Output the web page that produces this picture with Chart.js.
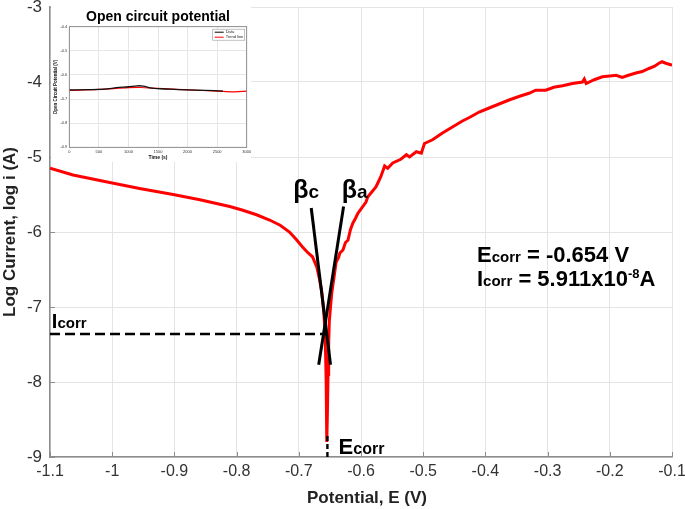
<!DOCTYPE html>
<html>
<head>
<meta charset="utf-8">
<script src="https://cdn.jsdelivr.net/npm/chart.js@4.4.0/dist/chart.umd.min.js"></script>
<style>
  body { margin: 0; background: #fff; }
  #wrap { position: relative; width: 685px; height: 509px; }
  #tafelChart { position: absolute; left: 0; top: 0; }
  #ocpChart { position: absolute; left: 51px; top: 7px; background: #fff; }
</style>
</head>
<body>
<div id="wrap">
  <canvas id="tafelChart" width="685" height="509"></canvas>
  <canvas id="ocpChart" width="200" height="155"></canvas>
</div>
<script>
// polarisation curve (cathodic branch down to Ecorr, then anodic branch)
const potentialE = [
  -1.100, -1.063, -1.004, -0.956, -0.902, -0.859, -0.811, -0.790, -0.768, -0.747,
  -0.730, -0.715, -0.704, -0.694, -0.685, -0.678, -0.671, -0.667, -0.663, -0.660,
  -0.658, -0.657, -0.656, -0.655, -0.655,
  -0.654, -0.653, -0.652, -0.651, -0.649, -0.647, -0.643, -0.640, -0.636, -0.634,
  -0.629, -0.625, -0.621, -0.617, -0.613, -0.609, -0.605, -0.597, -0.592, -0.589,
  -0.584, -0.576, -0.572, -0.568, -0.562, -0.557, -0.549, -0.536, -0.527, -0.522,
  -0.511, -0.503, -0.498, -0.485, -0.469, -0.453, -0.437, -0.425, -0.410, -0.395,
  -0.383, -0.362, -0.345, -0.330, -0.319, -0.303, -0.290, -0.276, -0.260, -0.244,
  -0.241, -0.238, -0.225, -0.212, -0.200, -0.190, -0.180, -0.170, -0.158, -0.148,
  -0.137, -0.128, -0.121, -0.116, -0.110, -0.102, -0.100
];
const logCurrent = [
  -5.15, -5.24, -5.34, -5.42, -5.50, -5.57, -5.66, -5.71, -5.77, -5.84,
  -5.91, -6.00, -6.10, -6.20, -6.28, -6.33, -6.47, -6.62, -6.80, -7.05,
  -7.30, -7.60, -8.00, -8.40, -8.80,
  -8.40, -7.90, -7.50, -7.20, -7.00, -6.81, -6.58, -6.40, -6.34, -6.28,
  -6.24, -6.14, -6.11, -5.97, -5.88, -5.82, -5.75, -5.66, -5.60, -5.53,
  -5.48, -5.40, -5.33, -5.26, -5.12, -5.15, -5.08, -5.03, -4.97, -5.00,
  -4.93, -4.95, -4.82, -4.77, -4.68, -4.60, -4.52, -4.47, -4.40, -4.35,
  -4.31, -4.24, -4.19, -4.15, -4.11, -4.11, -4.07, -4.05, -4.02, -4.00,
  -3.96, -4.02, -3.97, -3.93, -3.92, -3.91, -3.94, -3.91, -3.88, -3.86,
  -3.82, -3.79, -3.75, -3.73, -3.75, -3.77, -3.78
];

// Tafel fit lines
const betaCE = [-0.680, -0.649];
const betaCLog = [-5.68, -7.77];
const betaAE = [-0.628, -0.668];
const betaALog = [-5.66, -7.77];

const eCorr = -0.654;
const iCorrLog = -7.36;

const xTicks = [-1.1, -1.0, -0.9, -0.8, -0.7, -0.6, -0.5, -0.4, -0.3, -0.2, -0.1];
const yTicks = [-9, -8, -7, -6, -5, -4, -3];

// inset: open circuit potential
const ocpTime = [0, 300, 600, 800, 1000, 1150, 1250, 1400, 1700, 2000, 2300, 2600];
const ocpData = [-0.662, -0.661, -0.659, -0.653, -0.649, -0.645, -0.646, -0.655, -0.659, -0.662, -0.664, -0.667];
const trendTime = [0, 500, 1000, 1200, 1500, 2000, 2500, 2800, 3000];
const trendData = [-0.664, -0.660, -0.653, -0.652, -0.656, -0.662, -0.667, -0.670, -0.667];
const ocpXTicks = [0, 500, 1000, 1500, 2000, 2500, 3000];
const ocpYTicks = [-0.9, -0.8, -0.7, -0.6, -0.5, -0.4];

const FONT = '"Liberation Sans", Arial, sans-serif';

const pts = (xs, ys) => xs.map((v, i) => ({ x: v, y: ys[i] }));
const fmt = v => String(parseFloat(Number(v).toFixed(2)));

function subText(ctx, main, sub, px, py, big, small) {
  ctx.font = `bold ${big}px ${FONT}`;
  ctx.fillText(main, px, py);
  let w = ctx.measureText(main).width;
  ctx.font = `bold ${small}px ${FONT}`;
  ctx.fillText(sub, px + w, py);
  return px + w + ctx.measureText(sub).width;
}

// drop the extra room Chart.js keeps for half-labels, so the plot box is fixed
function noEdgePad(s) {
  s.paddingTop = 0; s.paddingBottom = 0; s.paddingLeft = 0; s.paddingRight = 0;
}

const annotate = {
  id: 'annotate',
  afterDraw(chart) {
    const { ctx, scales: { x, y }, chartArea } = chart;
    ctx.save();
    // inward tick marks
    ctx.strokeStyle = '#8c8c8c';
    ctx.lineWidth = 1;
    xTicks.forEach(v => {
      const px = Math.round(x.getPixelForValue(v)) + 0.5;
      ctx.beginPath(); ctx.moveTo(px, chartArea.bottom); ctx.lineTo(px, chartArea.bottom - 5); ctx.stroke();
    });
    yTicks.forEach(v => {
      const py = Math.round(y.getPixelForValue(v)) + 0.5;
      ctx.beginPath(); ctx.moveTo(chartArea.left, py); ctx.lineTo(chartArea.left + 5, py); ctx.stroke();
    });

    // x axis title
    ctx.fillStyle = '#222';
    ctx.textAlign = 'center';
    ctx.textBaseline = 'alphabetic';
    ctx.font = `bold 17px ${FONT}`;
    ctx.fillText('Potential, E (V)', 367, 503);

    ctx.fillStyle = '#000';
    ctx.textAlign = 'left';
    subText(ctx, 'β', 'c', x.getPixelForValue(-0.709), y.getPixelForValue(-5.553), 25, 19);
    subText(ctx, 'β', 'a', x.getPixelForValue(-0.631), y.getPixelForValue(-5.553), 25, 19);
    subText(ctx, 'E', 'corr', x.getPixelForValue(-0.636), y.getPixelForValue(-8.96), 22, 16);
    subText(ctx, 'I', 'corr', x.getPixelForValue(-1.097), y.getPixelForValue(-7.276), 20, 15);

    // results block
    const px = x.getPixelForValue(-0.4135);
    const base1 = y.getPixelForValue(-6.394);
    let end = subText(ctx, 'E', 'corr', px, base1, 22, 15);
    ctx.font = `bold 22px ${FONT}`;
    ctx.fillText(' = -0.654 V', end, base1);
    const base2 = y.getPixelForValue(-6.715);
    end = subText(ctx, 'I', 'corr', px, base2, 22, 15);
    ctx.font = `bold 22px ${FONT}`;
    ctx.fillText(' = 5.911x10', end, base2);
    end += ctx.measureText(' = 5.911x10').width;
    ctx.font = `bold 13px ${FONT}`;
    ctx.fillText('-8', end, base2 - 8);
    end += ctx.measureText('-8').width;
    ctx.font = `bold 22px ${FONT}`;
    ctx.fillText('A', end, base2);
    ctx.restore();
  }
};

new Chart(document.getElementById('tafelChart'), {
  type: 'line',
  data: {
    datasets: [
      { data: pts(potentialE, logCurrent), borderColor: '#ff0000', borderWidth: 3, order: 5 },
      { data: pts(betaCE, betaCLog), borderColor: '#000', borderWidth: 3, order: 1 },
      { data: pts(betaAE, betaALog), borderColor: '#000', borderWidth: 3, order: 1 },
      { data: pts([-1.1, eCorr], [iCorrLog, iCorrLog]), borderColor: '#000', borderWidth: 2.6, borderDash: [10, 5], order: 1 },
      { data: pts([eCorr, eCorr], [-9, -8.72]), borderColor: '#000', borderWidth: 2.4, borderDash: [5, 3], order: 1 }
    ]
  },
  options: {
    responsive: false,
    animation: false,
    layout: { padding: { top: 7, right: 13, left: 0, bottom: 0 } },
    elements: { point: { radius: 0 }, line: { tension: 0 } },
    plugins: { legend: { display: false }, tooltip: { enabled: false } },
    scales: {
      x: {
        type: 'linear', min: -1.1, max: -0.1,
        afterBuildTicks: s => { s.ticks = xTicks.map(v => ({ value: v })); },
        afterFit: s => { s.height = 52; noEdgePad(s); },
        ticks: { padding: 5, color: '#333', font: { family: FONT, size: 16 }, callback: v => fmt(v) },
        grid: { color: '#e4e4e4', drawTicks: false },
        border: { color: '#8c8c8c', width: 1.5 }
      },
      y: {
        type: 'linear', min: -9, max: -3,
        afterBuildTicks: s => { s.ticks = yTicks.map(v => ({ value: v })); },
        afterFit: s => { s.width = 50; noEdgePad(s); },
        ticks: { padding: 8, color: '#333', font: { family: FONT, size: 17 }, callback: v => fmt(v) },
        grid: { color: '#e4e4e4', drawTicks: false },
        border: { color: '#8c8c8c', width: 1.5 },
        title: { display: true, text: 'Log Current, log i (A)', color: '#222', font: { family: FONT, size: 17, weight: 'bold' }, padding: { top: 0, bottom: 0 } }
      }
    }
  },
  plugins: [annotate]
});

const insetDecor = {
  id: 'insetDecor',
  afterDraw(chart) {
    const { ctx, chartArea: a } = chart;
    ctx.save();
    ctx.strokeStyle = '#777';
    ctx.lineWidth = 0.8;
    ctx.strokeRect(a.left, a.top, a.right - a.left, a.bottom - a.top);
    ctx.fillStyle = '#000';
    ctx.textAlign = 'center';
    ctx.textBaseline = 'middle';
    ctx.font = `bold 14px ${FONT}`;
    ctx.fillText('Open circuit potential', (a.left + a.right) / 2, 10);
    // legend box
    const lx = a.right - 34, ly = a.top + 2.5;
    ctx.fillStyle = '#fff';
    ctx.fillRect(lx, ly, 32, 11);
    ctx.strokeStyle = '#999';
    ctx.lineWidth = 0.6;
    ctx.strokeRect(lx, ly, 32, 11);
    ctx.lineWidth = 1;
    ctx.strokeStyle = '#000';
    ctx.beginPath(); ctx.moveTo(lx + 2, ly + 3); ctx.lineTo(lx + 11, ly + 3); ctx.stroke();
    ctx.strokeStyle = '#ff0000';
    ctx.beginPath(); ctx.moveTo(lx + 2, ly + 8); ctx.lineTo(lx + 11, ly + 8); ctx.stroke();
    ctx.fillStyle = '#222';
    ctx.textAlign = 'left';
    ctx.font = `4px ${FONT}`;
    ctx.fillText('Data', lx + 13, ly + 3);
    ctx.fillText('Trend line', lx + 13, ly + 8);
    ctx.restore();
  }
};

new Chart(document.getElementById('ocpChart'), {
  type: 'line',
  data: {
    datasets: [
      { data: pts(ocpTime, ocpData), borderColor: '#111', borderWidth: 1.3 },
      { data: pts(trendTime, trendData), borderColor: '#ff0000', borderWidth: 1.2 }
    ]
  },
  options: {
    responsive: false,
    animation: false,
    layout: { padding: { top: 19.7, right: 4.3, left: 0, bottom: 0 } },
    elements: { point: { radius: 0 }, line: { tension: 0.3 } },
    plugins: { legend: { display: false }, tooltip: { enabled: false } },
    scales: {
      x: {
        type: 'linear', min: 0, max: 3000,
        afterBuildTicks: s => { s.ticks = ocpXTicks.map(v => ({ value: v })); },
        afterFit: s => { s.height = 14.7; noEdgePad(s); },
        ticks: { padding: 2, color: '#333', font: { family: FONT, size: 4 }, maxRotation: 0, callback: v => String(v) },
        grid: { color: '#e6e6e6', drawTicks: false },
        border: { display: false },
        title: { display: true, text: 'Time (s)', color: '#111', font: { family: FONT, size: 5, weight: 'bold' }, padding: { top: 0, bottom: 1 } }
      },
      y: {
        type: 'linear', min: -0.9, max: -0.4,
        afterBuildTicks: s => { s.ticks = ocpYTicks.map(v => ({ value: v })); },
        afterFit: s => { s.width = 18.3; noEdgePad(s); },
        ticks: { padding: 2, color: '#333', font: { family: FONT, size: 4 }, callback: v => fmt(v) },
        grid: { color: '#e6e6e6', drawTicks: false },
        border: { display: false },
        title: { display: true, text: 'Open Circuit Potential (V)', color: '#111', font: { family: FONT, size: 4.5, weight: 'bold' }, padding: { top: 2, bottom: 0 } }
      }
    }
  },
  plugins: [insetDecor]
});
</script>
</body>
</html>
